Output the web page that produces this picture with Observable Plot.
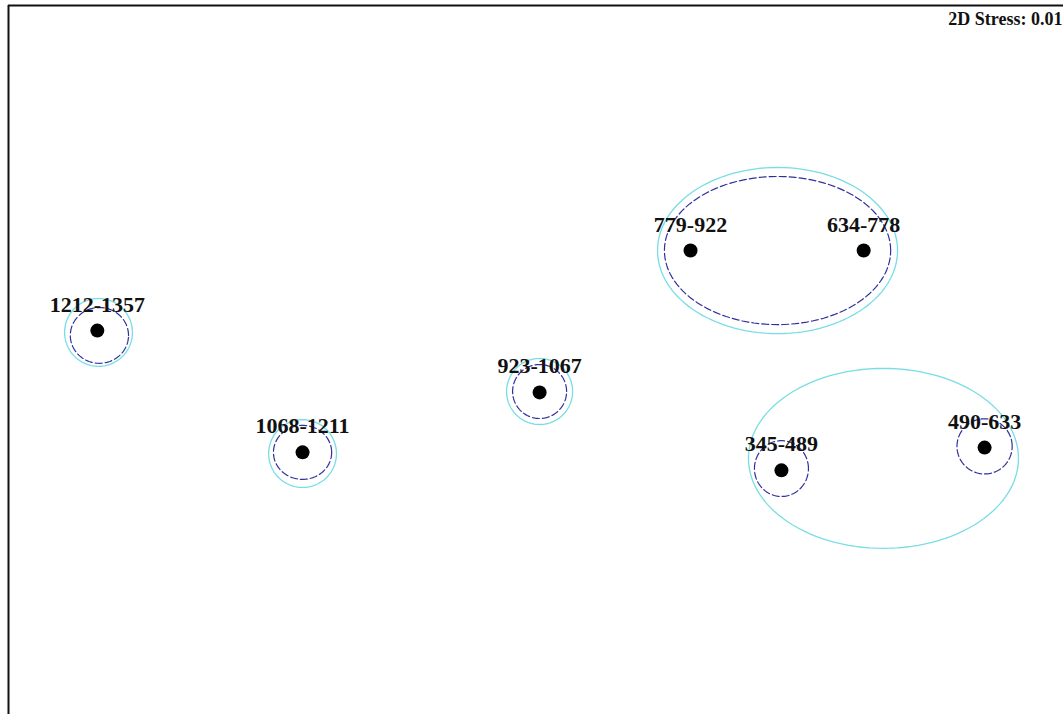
<!DOCTYPE html>
<html>
<head>
<meta charset="utf-8">
<script src="https://cdn.jsdelivr.net/npm/d3@7"></script>
<script src="https://cdn.jsdelivr.net/npm/@observablehq/plot@0.6"></script>
<style>
  html, body { margin: 0; padding: 0; background: #fff; }
  #chart svg { display: block; }
</style>
</head>
<body>
<div id="chart"></div>
<script>
// NMDS ordination of depth samples (MDS1, MDS2)
const sampleLabels = ["345-489", "490-633", "634-778", "779-922", "923-1067", "1068-1211", "1212-1357"];
const mds1 = [0.818, 1.495, 1.092, 0.515, 0.012, -0.778, -1.462];
const mds2 = [-0.368, -0.292, 0.365, 0.365, -0.108, -0.308, 0.098];

// Outer similarity contours (solid cyan): centre and semi-axes
const outerCx = [-1.458, -0.778, 0.012, 0.805, 1.158];
const outerCy = [0.092, -0.312, -0.105, 0.365, -0.328];
const outerRx = [0.113, 0.113, 0.110, 0.400, 0.450];
const outerRy = [0.113, 0.113, 0.110, 0.277, 0.300];

// Inner similarity contours (dashed navy)
const innerCx = [-1.455, -0.778, 0.012, 0.805, 0.818, 1.495];
const innerCy = [0.082, -0.308, -0.105, 0.365, -0.362, -0.288];
const innerRx = [0.097, 0.097, 0.090, 0.377, 0.090, 0.092];
const innerRy = [0.093, 0.090, 0.090, 0.247, 0.093, 0.092];

const stressText = "2D Stress: 0.01";

const samples = sampleLabels.map((label, i) => ({label, x: mds1[i], y: mds2[i]}));

// Trace each contour as a closed outline around its centre
function outline(cx, cy, rx, ry, steps = 120) {
  const pts = [];
  cx.forEach((c, k) => {
    for (let j = 0; j < steps; ++j) {
      const t = (2 * Math.PI * j) / steps;
      pts.push({id: k, x: c + rx[k] * Math.cos(t), y: cy[k] + ry[k] * Math.sin(t)});
    }
  });
  return pts;
}
const outerPts = outline(outerCx, outerCy, outerRx, outerRy);
const innerPts = outline(innerCx, innerCy, innerRx, innerRy);

const serif = "'Times New Roman', 'Liberation Serif', serif";
const xDomain = [-1.758, 1.758];
const yDomain = [-1.182, 1.182];

const chart = Plot.plot({
  width: 1063,
  height: 714,
  marginLeft: 8,
  marginTop: 5,
  marginRight: 0,
  marginBottom: 0,
  x: {domain: xDomain, axis: null},
  y: {domain: yDomain, axis: null},
  style: {background: "#fff", overflow: "visible"},
  marks: [
    Plot.ruleX([xDomain[0]], {stroke: "#111", strokeWidth: 2}),
    Plot.ruleY([yDomain[1]], {stroke: "#111", strokeWidth: 2}),
    Plot.line(outerPts, {x: "x", y: "y", z: "id", curve: "linear-closed", stroke: "#78dde4", strokeWidth: 1.3}),
    Plot.line(innerPts, {x: "x", y: "y", z: "id", curve: "linear-closed", stroke: "#31309c", strokeWidth: 1.2, strokeDasharray: "7,3"}),
    Plot.dot(samples, {x: "x", y: "y", r: 7, fill: "#000", stroke: null}),
    Plot.text(samples, {
      x: "x", y: "y", text: "label",
      dy: -19, lineAnchor: "bottom",
      fontFamily: serif, fontWeight: "bold", fontSize: 22, fill: "#111"
    }),
    Plot.text([stressText], {
      frameAnchor: "top-right", dx: -1, dy: 7,
      fontFamily: serif, fontWeight: "bold", fontSize: 18, fill: "#111"
    })
  ]
});

document.getElementById("chart").appendChild(chart);
</script>
</body>
</html>
